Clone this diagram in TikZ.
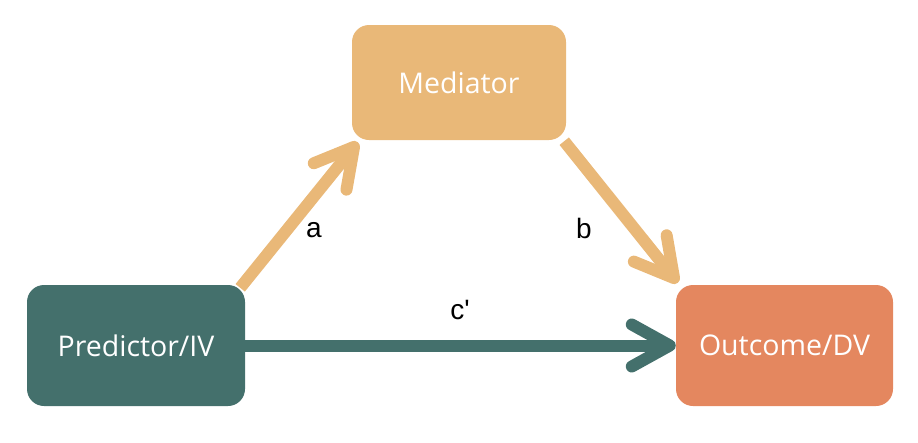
\documentclass[tikz,border=0pt]{standalone}
\usepackage{fontspec}
\setmainfont{Open Sans}
\newfontfamily\labfont{Liberation Sans}
\usetikzlibrary{arrows.meta}
\definecolor{medc}{HTML}{E9B878}
\definecolor{predc}{HTML}{44706C}
\definecolor{outc}{HTML}{E4875F}
\begin{document}
\begin{tikzpicture}[x=1pt,y=-1pt,
  box/.style={rounded corners=17pt,inner sep=0pt,text=white,font=\fontsize{28.5}{34}\selectfont},
  conn/.style={line width=12pt,-{Straight Barb[round,length=38pt,width=42pt,line width=12pt]}},
  lab/.style={font=\labfont\fontsize{28}{32}\selectfont,text=black}]
\useasboundingbox (0,0) rectangle (918,442);
\node[box,fill=medc,minimum width=214pt,minimum height=115pt] (med) at (459,82.5) {Mediator};
\node[box,fill=predc,minimum width=218pt,minimum height=121pt] (pred) at (136,345.5) {Predictor/IV};
\node[box,fill=outc,minimum width=217pt,minimum height=121pt] (out) at (784.5,345.5) {Outcome/DV};
\draw[conn,medc] ([shift={(-5,3)}]pred.north east) -- ([shift={(6,2)}]med.south west);
\draw[conn,medc] ([shift={(-2,1)}]med.south east) -- ([shift={(2,-2)}]out.north west);
\draw[conn,predc] (pred.east) -- (out.west);
\node[lab] (la) at (314,230) {a};
\node[lab] (lb) at (584,228) {b};
\node[lab] (lc) at (460,310) {c'};
\end{tikzpicture}
\end{document}
